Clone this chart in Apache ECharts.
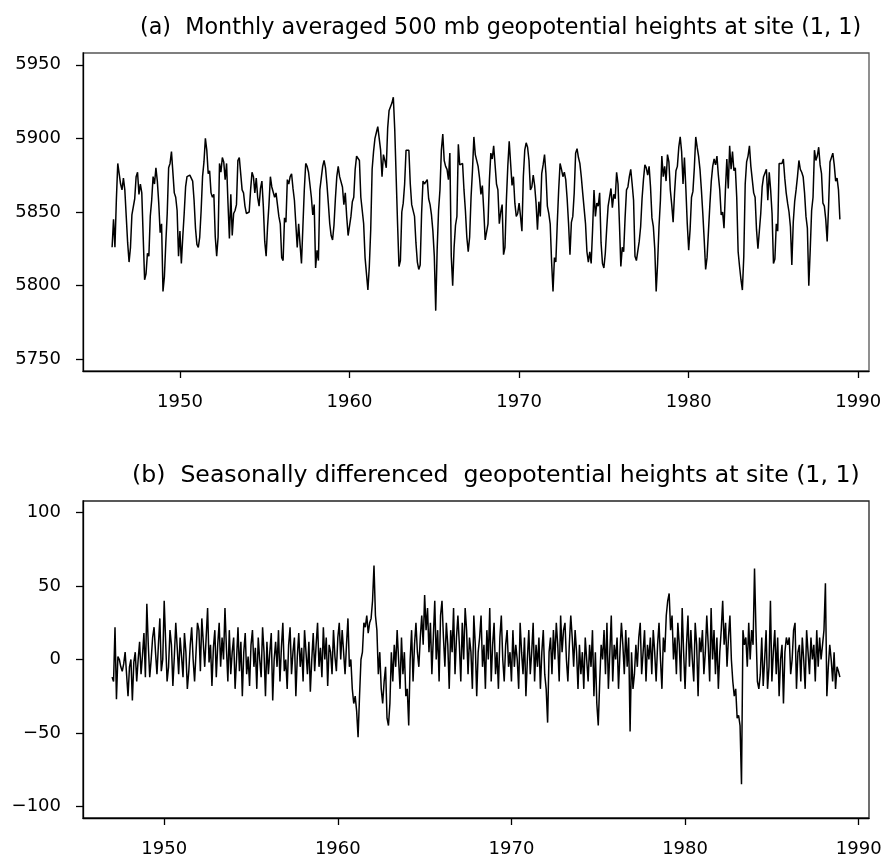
<!DOCTYPE html>
<html>
<head>
<meta charset="utf-8">
<script src="https://cdn.jsdelivr.net/npm/echarts@6/dist/echarts.min.js"></script>
<style>
  html, body { margin: 0; padding: 0; background: #fff; }
  #chart { width: 887px; height: 865px; }
</style>
</head>
<body>
<div id="chart"></div>
<script>
// panel (a): monthly 500 mb heights, Jan 1946 .. Dec 1988
const startA = 1946;
const heightsA = [
  5826, 5845, 5826, 5858, 5883, 5884, 5869, 5865, 5873, 5865, 5847, 5829,
  5816, 5826, 5848, 5848, 5859, 5874, 5877, 5862, 5869, 5863, 5833, 5804,
  5808, 5822, 5820, 5847, 5858, 5874, 5869, 5880, 5871, 5856, 5836, 5842,
  5796, 5806, 5829, 5849, 5880, 5883, 5891, 5892, 5863, 5860, 5851, 5820,
  5837, 5815, 5833, 5849, 5867, 5874, 5874, 5875, 5875, 5871, 5858, 5839,
  5828, 5826, 5833, 5851, 5874, 5884, 5900, 5892, 5876, 5878, 5863, 5860,
  5862, 5833, 5820, 5833, 5883, 5877, 5887, 5884, 5872, 5883, 5856, 5832,
  5862, 5834, 5849, 5851, 5855, 5885, 5887, 5888, 5865, 5863, 5854, 5849,
  5850, 5850, 5865, 5877, 5874, 5863, 5873, 5860, 5854, 5866, 5871, 5854,
  5830, 5820, 5840, 5855, 5874, 5867, 5867, 5860, 5863, 5863, 5847, 5842,
  5819, 5817, 5846, 5843, 5872, 5869, 5874, 5876, 5866, 5858, 5842, 5826,
  5842, 5828, 5815, 5840, 5865, 5883, 5881, 5877, 5876, 5860, 5848, 5855,
  5812, 5824, 5817, 5865, 5873, 5881, 5885, 5880, 5869, 5856, 5842, 5834,
  5831, 5841, 5859, 5874, 5881, 5874, 5874, 5867, 5855, 5863, 5847, 5834,
  5833, 5847, 5857, 5860, 5879, 5888, 5888, 5885, 5860, 5859, 5842, 5819,
  5818, 5797, 5813, 5838, 5879, 5891, 5900, 5904, 5908, 5907, 5892, 5874,
  5889, 5885, 5880, 5907, 5919, 5920, 5924, 5928, 5906, 5874, 5842, 5813,
  5817, 5850, 5856, 5869, 5892, 5893, 5892, 5869, 5855, 5856, 5847, 5829,
  5816, 5811, 5814, 5849, 5871, 5869, 5868, 5872, 5859, 5855, 5848, 5837,
  5820, 5783, 5824, 5851, 5865, 5892, 5903, 5885, 5881, 5879, 5872, 5890,
  5820, 5800, 5826, 5841, 5847, 5896, 5882, 5882, 5883, 5865, 5851, 5833,
  5823, 5833, 5860, 5878, 5901, 5889, 5888, 5881, 5873, 5862, 5868, 5851,
  5831, 5832, 5842, 5872, 5890, 5886, 5895, 5894, 5869, 5865, 5842, 5850,
  5855, 5821, 5826, 5858, 5881, 5898, 5899, 5868, 5874, 5856, 5847, 5849,
  5856, 5847, 5837, 5874, 5892, 5897, 5894, 5885, 5865, 5867, 5875, 5868,
  5856, 5838, 5857, 5847, 5876, 5882, 5889, 5876, 5854, 5849, 5842, 5816,
  5796, 5819, 5816, 5842, 5865, 5883, 5879, 5874, 5877, 5872, 5859, 5842,
  5821, 5843, 5847, 5863, 5890, 5893, 5887, 5883, 5874, 5863, 5863, 5842,
  5823, 5816, 5823, 5815, 5838, 5865, 5847, 5856, 5854, 5863, 5829, 5815,
  5812, 5822, 5839, 5854, 5853, 5866, 5853, 5862, 5859, 5877, 5869, 5842,
  5813, 5826, 5823, 5846, 5865, 5867, 5874, 5879, 5869, 5858, 5820, 5817,
  5817, 5830, 5840, 5859, 5872, 5882, 5880, 5875, 5881, 5867, 5846, 5840,
  5825, 5796, 5815, 5840, 5858, 5888, 5874, 5881, 5871, 5889, 5884, 5865,
  5855, 5843, 5863, 5878, 5881, 5894, 5901, 5891, 5869, 5887, 5866, 5842,
  5824, 5838, 5860, 5864, 5880, 5901, 5894, 5888, 5879, 5865, 5849, 5831,
  5811, 5819, 5837, 5855, 5871, 5881, 5886, 5882, 5888, 5875, 5865, 5848,
  5850, 5839, 5865, 5886, 5866, 5895, 5879, 5891, 5878, 5880, 5860, 5823,
  5813, 5804, 5797, 5820, 5869, 5884, 5888, 5895, 5881, 5882, 5863, 5860,
  5838, 5825, 5824, 5849, 5867, 5874, 5875, 5879, 5858, 5877, 5865, 5849,
  5815, 5818, 5842, 5837, 5883, 5882, 5883, 5886, 5873, 5863, 5856, 5850,
  5840, 5814, 5843, 5857, 5865, 5874, 5885, 5879, 5877, 5874, 5863, 5847,
  5839, 5800, 5824, 5851, 5860, 5892, 5885, 5888, 5894, 5882, 5876, 5856,
  5854, 5845, 5830, 5854, 5884, 5883, 5890, 5882, 5871, 5873, 5865, 5845
];

// panel (b): seasonally differenced heights, Jan 1947 .. Dec 1988
const startB = 1947;
const diffB = [
  -12, -15, 22, -27, 2, 0, -5, -8, -3, 5, -10, -25,
  -5, 0, -28, -2, 5, -15, 0, 12, -10, 3, 18, -12,
  38, 10, -12, 0, 15, 22, 5, -10, 10, 28, -8, 0,
  40, 12, -15, -5, 20, 10, -18, 2, 25, 8, -10, 15,
  2, -12, 18, 5, -20, -8, 10, 22, 0, -15, 5, 25,
  20, -8, 28, 12, -5, 15, 35, -2, 10, -18, 8, 20,
  -12, 10, 25, -5, 15, 0, 35, 8, -15, 20, -10, 5,
  15, -20, 0, 22, -8, 12, -25, 5, 18, -10, 2, -18,
  10, 20, -5, 8, -20, 15, 0, -12, 22, 5, -25, 12,
  -10, 5, 18, -28, 0, 12, -5, 20, -15, 8, 25, -8,
  0, -20, 10, 22, -10, 5, 15, -25, 2, 18, -5, 8,
  -15, 20, 5, -10, 12, -22, 0, 18, -8, 10, 25, -5,
  8, -12, 22, 0, 15, -18, 10, 5, -10, 20, 2, -8,
  15, 25, 0, 20, 5, -10, 10, 28, -5, 0, -20, -30,
  -25, -35, -53, -25, 0, 5, 25, 22, 30, 18, 25, 28,
  40, 64, 30, 20, -10, 5, -20, -30, -15, -5, -40, -45,
  -30, 5, -15, 10, -5, 20, 0, -20, 15, -10, 5, -25,
  -20, -45, 0, 20, -15, 10, 25, 5, -5, 15, 30, 10,
  44, 20, 35, 5, 25, -10, 15, 40, 0, 20, -15, 30,
  40, 15, -5, 25, 10, -20, 20, 5, 35, -10, 15, 30,
  10, -15, 25, 0, 35, 20, -10, 15, 5, -20, 30, 10,
  -25, 5, 15, 30, -5, 10, -20, 20, 0, 35, -15, 10,
  25, -10, 5, -20, 15, 30, 0, -15, 10, 20, -5, 5,
  -15, 20, -5, 10, 0, -20, 25, 5, -10, 15, -25, 0,
  20, -10, 5, 25, -15, 10, -5, 15, -20, 5, 20, -10,
  -20, -43, 5, 15, -10, 20, 0, 25, 10, -15, 30, 5,
  20, 25, 0, -15, 10, 30, 15, -5, 20, 5, -20, 10,
  -10, 5, -20, 15, 0, -15, 10, -5, 20, -25, 5, -30,
  -45, -15, 10, 0, 20, -10, 25, -20, 5, 30, -15, 10,
  0, 15, -20, 5, 25, 10, -10, 20, -5, 15, -49, 5,
  -20, -10, 10, -5, 15, 25, -10, 5, 20, -15, 10, 0,
  15, -10, 20, 5, -15, 10, 25, 0, -20, 15, 5, 30,
  40, 45, 20, 30, 0, 15, -10, 25, 10, -15, 35, 5,
  -20, 10, 30, -5, 20, 0, -15, 25, 10, -25, 15, 5,
  20, -10, 5, 30, 10, -15, 35, 0, 20, -10, 15, -20,
  5, 20, 40, 10, 25, -5, 15, 30, 0, -15, -25, -20,
  -40, -38, -45, -85, 20, 10, 15, -5, 25, 0, 20, 10,
  62, 20, -15, -20, -10, 15, -18, 0, 20, -20, -5, 40,
  -15, 5, 20, -10, 15, -25, 0, 10, -30, 5, 15, 10,
  15, -10, 0, 20, 25, -20, 5, 10, -15, 15, 0, -20,
  20, 5, -10, 15, 0, 10, -15, 20, -5, 15, 0, 10,
  20, 52, -25, -5, 10, 0, -15, 5, -20, -5, -8, -12
];

const yearTicks = [1950, 1960, 1970, 1980, 1990];
const ticksA = [5750, 5800, 5850, 5900, 5950];
const ticksB = [-100, -50, 0, 50, 100];

const titleA = '(a)  Monthly averaged 500 mb geopotential heights at site (1, 1)';
const titleB = '(b)  Seasonally differenced  geopotential heights at site (1, 1)';

const dataA = heightsA.map((v, i) => [startA + i / 12, v]);
const dataB = diffB.map((v, i) => [startB + i / 12, v]);

// R style 4% padding around the data range
function padRange(lo, hi) {
  const p = (hi - lo) * 0.04;
  return [lo - p, hi + p];
}
const xA = padRange(startA, startA + (heightsA.length - 1) / 12);
const xB = padRange(startB, startB + (diffB.length - 1) / 12);
const yA = padRange(ticksA[0], ticksA[ticksA.length - 1]);
const yB = padRange(ticksB[0], ticksB[ticksB.length - 1]);

const font = 'DejaVu Sans';
const plain = v => String(Math.round(v)).replace('-', '\u2212');

function xAxisFor(ext, gi) {
  return {
    type: 'value', gridIndex: gi, min: ext[0], max: ext[1],
    axisLine: { show: true, onZero: false, lineStyle: { color: '#000', width: 1.3 } },
    axisTick: { show: true, length: 7, customValues: yearTicks, lineStyle: { color: '#000', width: 1.3 } },
    axisLabel: { customValues: yearTicks, color: '#000', fontFamily: font, fontSize: 18, margin: 22, formatter: plain },
    splitLine: { show: false }
  };
}
function yAxisFor(ext, ticks, gi) {
  return {
    type: 'value', gridIndex: gi, min: ext[0], max: ext[1],
    axisLine: { show: true, onZero: false, lineStyle: { color: '#000', width: 1.3 } },
    axisTick: { show: true, length: 7, customValues: ticks, lineStyle: { color: '#000', width: 1.3 } },
    axisLabel: { customValues: ticks, color: '#000', fontFamily: font, fontSize: 18, margin: 22, formatter: plain },
    splitLine: { show: false }
  };
}

const chart = echarts.init(document.getElementById('chart'), null, { renderer: 'canvas' });

chart.setOption({
  animation: false,
  backgroundColor: '#fff',
  title: [
    { text: titleA, left: 135, top: 12, textStyle: { fontFamily: font, fontSize: 22.3, fontWeight: 'normal', color: '#000' } },
    { text: titleB, left: 127, top: 459, textStyle: { fontFamily: font, fontSize: 23.6, fontWeight: 'normal', color: '#000' } }
  ],
  grid: [
    { left: 83, top: 53, width: 786, height: 318, show: true, borderColor: '#555', borderWidth: 1.3 },
    { left: 83, top: 501, width: 786, height: 317, show: true, borderColor: '#222', borderWidth: 1.3 }
  ],
  xAxis: [xAxisFor(xA, 0), xAxisFor(xB, 1)],
  yAxis: [yAxisFor(yA, ticksA, 0), yAxisFor(yB, ticksB, 1)],
  series: [
    { type: 'line', xAxisIndex: 0, yAxisIndex: 0, data: dataA, showSymbol: false,
      lineStyle: { color: '#000', width: 1.5 } },
    { type: 'line', xAxisIndex: 1, yAxisIndex: 1, data: dataB, showSymbol: false,
      lineStyle: { color: '#000', width: 1.5 } }
  ]
});
</script>
</body>
</html>
